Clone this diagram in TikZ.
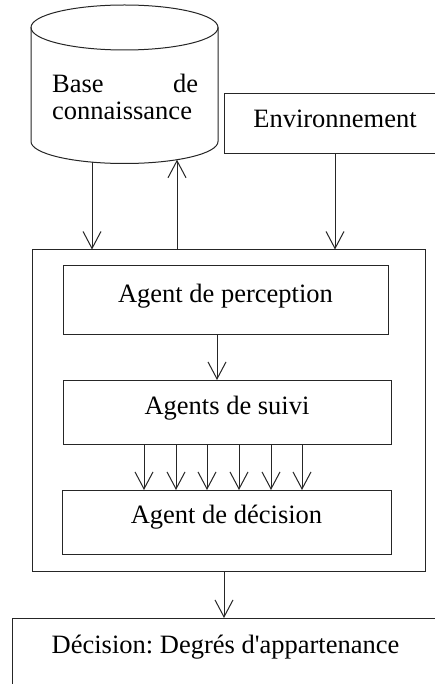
\documentclass[tikz,border=0pt]{standalone}
\usepackage{fontspec}
\setmainfont{Liberation Serif}[Ligatures=TeXOff]
\usetikzlibrary{arrows.meta}
\frenchspacing
\begin{document}
\begin{tikzpicture}[
  x=1pt, y=-1pt,
  every node/.style={font=\fontsize{26.5}{27}\selectfont, inner sep=0pt},
  frame/.style={draw=black!85, line width=1pt},
  agentbox/.style={frame, anchor=north, align=center},
  arr/.style={draw=black!85, line width=1pt, -{Straight Barb[length=17pt,width=18pt,line width=1pt]}},
]
% canvas
\clip (0,0) rectangle (435,684);
\fill[white] (0,0) rectangle (435,684);

% knowledge base (cylinder); y axis points down, so the lower rim runs through 90 degrees
\draw[frame] (31,27.5) -- (31,141.5)
  arc[start angle=180, end angle=0, x radius=93.5, y radius=22] -- (218,27.5);
\draw[frame] (124.5,27.5) ellipse [x radius=93.5, y radius=22.5];
\node[anchor=base west] (kb) at (52,93)
  {\parbox[t]{146pt}{\makebox[146pt][s]{Base\hfill de}\\connaissance}};
\coordinate (kbout) at (92,162.1);
\coordinate (kbin) at (177,159.7);

% environment
\node[agentbox, minimum width=222pt, text height=34pt, text depth=26pt] (env)
  at (335,93) {Environnement};

% multi-agent system frame
\node[frame, minimum width=393pt, minimum height=321pt] (sys) at (228.5,410.5) {};

% agents
\node[agentbox, minimum width=325pt, text height=37pt, text depth=32pt] (perc)
  at (225.5,265) {Agent de perception};
\node[agentbox, minimum width=328pt, text height=34pt, text depth=30pt] (suivi)
  at (227,380) {Agents de suivi};
\node[agentbox, minimum width=329pt, text height=33pt, text depth=31pt] (dec)
  at (226.5,490) {Agent de d\'ecision};

% output
\node[agentbox, minimum width=427pt, text height=35pt, text depth=60pt] (out)
  at (225.5,618) {D\'ecision: Degr\'es d'appartenance};

% connectors
\draw[arr] (kbout) -- (kbout |- sys.north);
\draw[arr] (kbin |- sys.north) -- (kbin);
\draw[arr] (env.south) -- (env.south |- sys.north);
\coordinate (pa) at (217,0);
\draw[arr] (perc.south -| pa) -- (suivi.north -| pa);
\foreach \i/\xx in {1/144,2/176,3/207,4/239,5/271,6/302} {
  \coordinate (t\i) at (\xx,0);
  \draw[arr] (suivi.south -| t\i) -- (dec.north -| t\i);
}
\coordinate (oa) at (224,0);
\draw[arr] (sys.south -| oa) -- (out.north -| oa);
\end{tikzpicture}
\end{document}
